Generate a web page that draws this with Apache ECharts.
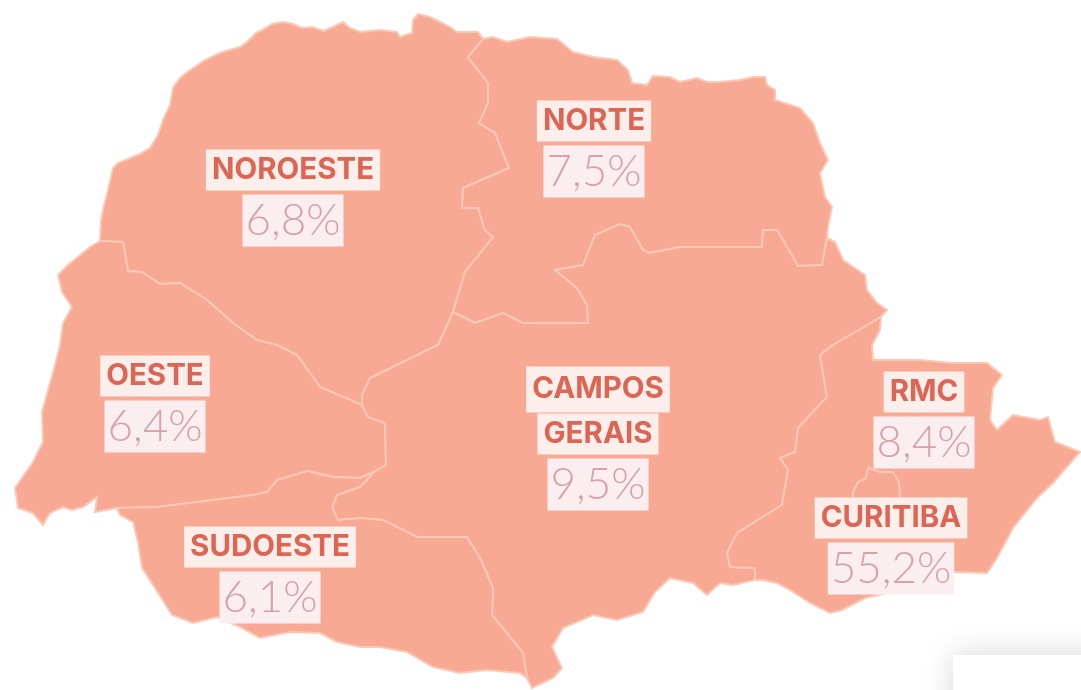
<!DOCTYPE html>
<html>
<head>
<meta charset="utf-8">
<title>Paraná</title>
<style>
  html, body { margin: 0; padding: 0; background: #fff; }
  #main { width: 1081px; height: 690px; }
</style>
</head>
<body>
<div id="main"></div>
<script src="https://cdn.jsdelivr.net/npm/echarts@6/dist/echarts.min.js"></script>
<script>
// dados
var regionNames = ['Noroeste', 'Norte', 'Oeste', 'Campos Gerais', 'Sudoeste', 'RMC', 'Curitiba'];
var regionLabels = ['NOROESTE', 'NORTE', 'OESTE', 'CAMPOS\nGERAIS', 'SUDOESTE', 'RMC', 'CURITIBA'];
var regionValues = [6.8, 7.5, 6.4, 9.5, 6.1, 8.4, 55.2];
// ponto onde fica o rotulo de cada regiao
var labelCenters = [[293, 198], [594, 149], [155, 404], [598, 440], [270, 575], [924, 420], [891, 546]];

// contornos (pixels da imagem), cada trecho e compartilhado entre regioes
var noroesteCoast = [[100,241],[101,220],[104,205],[108,190],[113,168],[118,163],[140,154],[150,148],[158,135],[163,120],[170,105],[173,88],[180,78],[190,70],[205,60],[222,52],[240,47],[247,42],[256,33],[262,30],[272,24],[283,22],[293,24],[302,28],[312,27],[324,31],[335,26],[343,22],[350,28],[360,32],[380,30],[397,32],[400,37],[412,33],[413,20],[418,14],[430,17],[440,22],[450,27],[457,32],[478,32],[483,39]];
var norteCoast = [[483,39],[493,37],[507,42],[530,37],[557,39],[573,52],[593,57],[617,60],[628,70],[632,83],[647,85],[653,76],[670,77],[680,82],[697,78],[707,82],[720,82],[740,80],[753,77],[765,77],[767,85],[775,90],[775,100],[800,108],[813,123],[820,143],[828,160],[820,173],[825,197],[832,207],[828,227],[827,238]];
var noroesteNorte = [[483,39],[468,57],[488,83],[488,103],[479,123],[495,133],[509,168],[463,188],[462,208],[478,208],[485,230],[493,237],[465,272],[453,312]];
var norteCampos = [[827,238],[822,265],[798,266],[777,230],[763,230],[762,247],[720,247],[680,247],[650,253],[643,250],[630,227],[620,224],[595,235],[583,265],[555,270],[577,288],[587,305],[588,323],[523,323],[503,313],[475,323],[453,312]];
var noroesteCampos = [[453,312],[438,345],[370,378],[362,395],[362,405]];
var oesteNoroeste = [[100,241],[123,242],[128,271],[142,272],[160,284],[180,283],[207,300],[233,323],[257,340],[277,345],[297,355],[320,387],[362,405]];
var oesteCampos = [[362,405],[368,417],[385,423],[386,465],[374,472]];
var oesteCoast = [[100,241],[90,247],[68,265],[58,275],[62,292],[72,307],[63,323],[60,345],[55,365],[42,412],[43,442],[33,462],[15,488],[18,508],[33,513],[43,525],[50,513],[63,507],[72,510],[83,507],[97,497],[95,512],[117,508]];
var oesteSudoeste = [[117,508],[157,507],[253,495],[267,492],[277,480],[307,471],[333,477],[360,478],[374,472]];
var sudoesteCoast = [[117,508],[120,515],[133,522],[138,542],[142,568],[155,588],[172,615],[193,623],[217,617],[240,627],[260,638],[290,632],[320,633],[337,642],[360,647],[380,647],[407,652],[433,667],[460,673],[487,670],[520,673],[527,678]];
var sudoesteCampos = [[374,472],[360,487],[337,495],[332,507],[338,520],[360,518],[383,520],[417,537],[467,537],[480,558],[493,588],[492,615],[523,653],[527,678]];
var camposEastCoast = [[827,238],[835,242],[843,260],[865,275],[867,290],[877,303],[887,310],[881,317]];
var camposSouthCoast = [[527,678],[532,688],[553,678],[562,668],[552,647],[563,628],[593,615],[617,620],[643,612],[655,592],[670,578],[693,583],[707,595],[720,583],[733,585],[755,580]];
var camposRmc = [[881,317],[833,345],[820,355],[827,397],[798,428],[795,452],[780,458],[788,470],[782,505],[737,533],[727,553],[730,567],[755,568],[755,580]];
var rmcCoast = [[881,317],[880,330],[872,345],[873,360],[920,360],[953,363],[987,363],[1002,375],[993,388],[990,420],[997,430],[1013,415],[1040,420],[1048,417],[1055,442],[1080,452],[1053,483],[1037,498],[1013,528],[997,558],[987,573],[953,572],[900,590],[865,598],[842,610],[830,613],[810,603],[790,590],[777,583],[763,580],[755,580]];
var curitibaShape = [[868,468],[880,472],[893,472],[899,482],[900,497],[898,515],[885,525],[865,525],[853,510],[853,492],[858,482],[866,478]];

function rev(a) { return a.slice().reverse(); }
function ring() {
  var out = [];
  for (var i = 0; i < arguments.length; i++) out = out.concat(arguments[i]);
  return out.map(function (p) { return [p[0], -p[1]]; });
}

var regionShapes = [
  ring(noroesteCoast, noroesteNorte, noroesteCampos, rev(oesteNoroeste)),
  ring(norteCoast, norteCampos, rev(noroesteNorte)),
  ring(oesteCoast, oesteSudoeste, rev(oesteCampos), rev(oesteNoroeste)),
  ring(rev(norteCampos), camposEastCoast, camposRmc, rev(camposSouthCoast), rev(sudoesteCampos), rev(oesteCampos), rev(noroesteCampos)),
  ring(rev(oesteSudoeste), sudoesteCoast, rev(sudoesteCampos)),
  ring(rmcCoast, rev(camposRmc)),
  ring(curitibaShape)
];

var features = regionNames.map(function (name, i) {
  return {
    type: 'Feature',
    properties: { name: name, cp: [labelCenters[i][0], -labelCenters[i][1]] },
    geometry: { type: 'Polygon', coordinates: [regionShapes[i]] }
  };
});
echarts.registerMap('parana', { type: 'FeatureCollection', features: features });

var chart = echarts.init(document.getElementById('main'));
chart.setOption({
  backgroundColor: '#ffffff',
  animation: false,
  graphic: [{
    type: 'rect',
    silent: true,
    shape: { x: 953, y: 655, width: 200, height: 100 },
    style: { fill: '#ffffff', shadowBlur: 30, shadowColor: 'rgba(0,0,0,0.16)' }
  }],
  series: [{
    type: 'map',
    map: 'parana',
    aspectScale: 1,
    boundingCoords: [[0, 0], [1081, -690]],
    layoutCenter: ['50%', '50%'],
    layoutSize: 1081,
    roam: false,
    silent: true,
    itemStyle: { areaColor: '#f7a994', borderColor: '#fbc8b5', borderWidth: 2 },
    emphasis: { disabled: true },
    select: { disabled: true },
    label: {
      show: true,
      fontFamily: 'Inter',
      formatter: function (p) {
        var i = regionNames.indexOf(p.name);
        var lines = regionLabels[i].split('\n');
        var txt = lines.map(function (l, k) {
          return '{' + (k < lines.length - 1 ? 'first' : 'name') + '|' + l + '}';
        }).join('\n');
        return txt + '\n{value|' + regionValues[i].toFixed(1).replace('.', ',') + '%}';
      },
      rich: {
        first: { fontFamily: 'Inter', fontWeight: 700, fontSize: 29.5, color: '#dc6553', backgroundColor: '#fcefeb', padding: [0, 6], height: 46, lineHeight: 44 },
        name: { fontFamily: 'Inter', fontWeight: 700, fontSize: 29.5, color: '#dc6553', backgroundColor: '#fcefeb', padding: [0, 6], height: 41, lineHeight: 45 },
        value: { fontFamily: 'Lato', fontWeight: 300, fontSize: 44, color: '#d6a2a6', backgroundColor: '#fbeef0', padding: [0, 3], height: 52, lineHeight: 56 }
      }
    },
    data: regionNames.map(function (name, i) { return { name: name, value: regionValues[i] }; })
  }]
});
</script>
</body>
</html>
